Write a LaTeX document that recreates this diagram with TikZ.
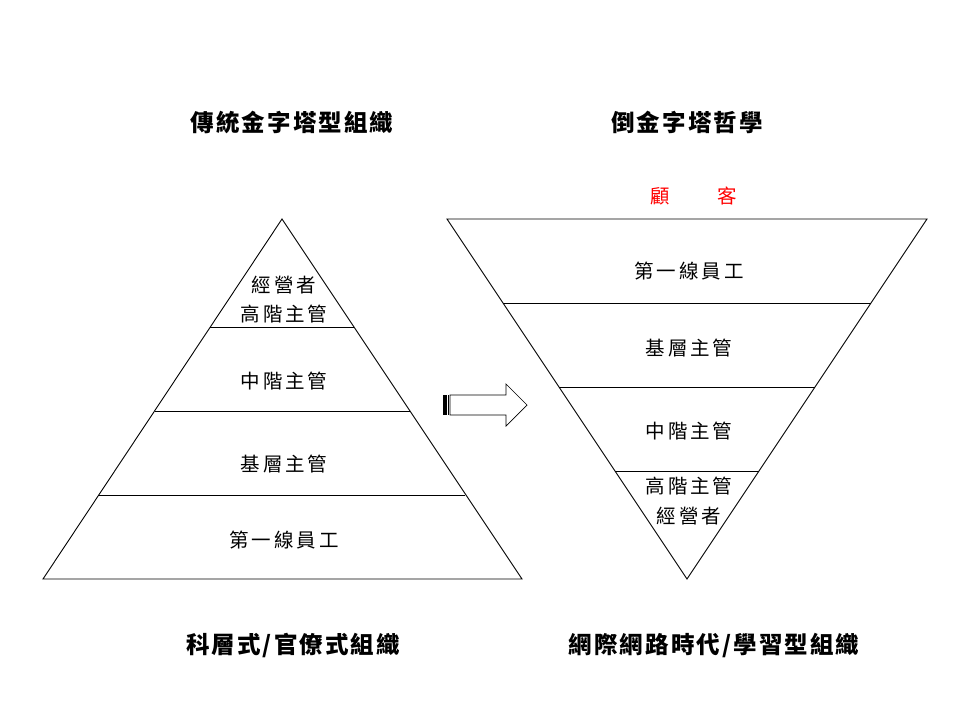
\documentclass[tikz,border=0pt]{standalone}
\usepackage{fontspec}
\newfontfamily\cjk[LetterSpace=15]{Noto Sans CJK TC}
\newfontfamily\cjkt[LetterSpace=9]{Noto Sans CJK TC}
\begin{document}
\begin{tikzpicture}[x=1pt,y=-1pt,
  edge/.style={draw=black,line width=0.9pt},
  lbl/.style={font=\cjk\fontsize{19.5}{23}\selectfont,inner sep=0pt},
  ttl/.style={font=\cjkt\bfseries\fontsize{23.5}{27}\selectfont,inner sep=0pt},
  red/.style={lbl,text=red}]
\useasboundingbox (0,0) rectangle (960,720);
\fill[white] (0,0) rectangle (960,720);
% left pyramid
\coordinate (LA) at (282,219);
\coordinate (LL) at (43,579);
\coordinate (LR) at (522,579);
\draw[edge] (LA) -- (LL) -- (LR) -- cycle;
\coordinate (l1a) at (210.3,327); \coordinate (l1b) at (353.7,327);
\coordinate (l2a) at (154.5,411); \coordinate (l2b) at (409.5,411);
\coordinate (l3a) at (98.7,495);  \coordinate (l3b) at (465.3,495);
\draw[edge] (l1a) -- (l1b);
\draw[edge] (l2a) -- (l2b);
\draw[edge] (l3a) -- (l3b);
% right inverted pyramid
\coordinate (RL) at (447,219);
\coordinate (RR) at (927,219);
\coordinate (RB) at (687,579);
\draw[edge] (RL) -- (RR) -- (RB) -- cycle;
\coordinate (r1a) at (503,303); \coordinate (r1b) at (871,303);
\coordinate (r2a) at (559,387); \coordinate (r2b) at (815,387);
\coordinate (r3a) at (615,471); \coordinate (r3b) at (759,471);
\draw[edge] (r1a) -- (r1b);
\draw[edge] (r2a) -- (r2b);
\draw[edge] (r3a) -- (r3b);
% arrow
\draw[black,line width=0.7pt] (450,395) -- (506,395) -- (506,384) -- (527,405) -- (506,426) -- (506,415) -- (450,415) -- cycle;
\fill[black] (443,395) rectangle (446.5,415);
\draw[black,line width=0.7pt] (448.5,395) -- (448.5,415);
% titles
\node[ttl] (t1) at (292,122) {傳統金字塔型組織};
\node[ttl] (t2) at (687,122) {倒金字塔哲學};
\node[ttl] (b1) at (293,645) {科層式/官僚式組織};
\node[ttl] (b2) at (714,645) {網際網路時代/學習型組織};
\node[red] (cust) at (694,196) {顧　　客};
% left labels
\node[lbl] (L1) at (284,285) {經營者};
\node[lbl] (L2) at (284,314) {高階主管};
\node[lbl] (L3) at (284,381) {中階主管};
\node[lbl] (L4) at (284,464) {基層主管};
\node[lbl] (L5) at (284,540) {第一線員工};
% right labels
\node[lbl] (R1) at (689,271) {第一線員工};
\node[lbl] (R2) at (689,348) {基層主管};
\node[lbl] (R3) at (689,431) {中階主管};
\node[lbl] (R4) at (689,486) {高階主管};
\node[lbl] (R5) at (689,516) {經營者};
\end{tikzpicture}
\end{document}
